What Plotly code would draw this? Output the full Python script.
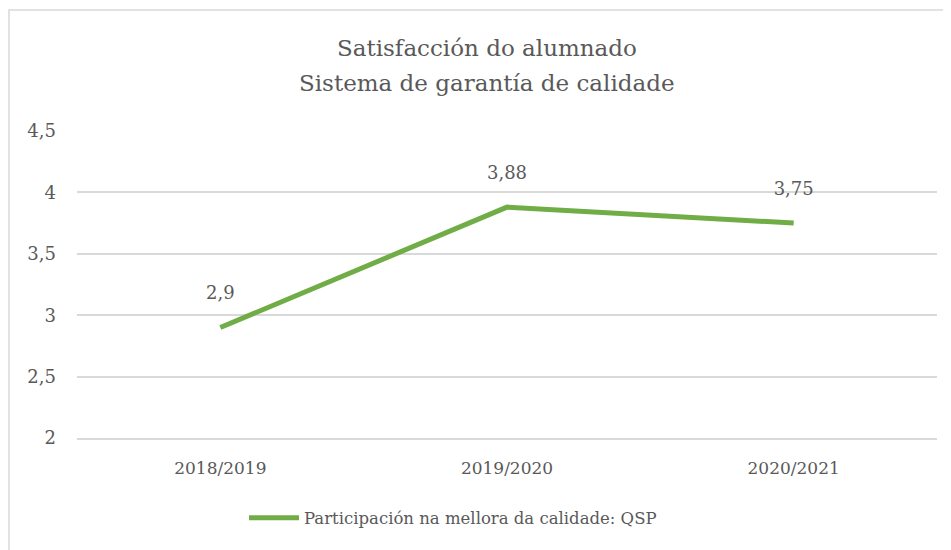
import plotly.graph_objects as go

categories = ["2018/2019", "2019/2020", "2020/2021"]
values = [2.9, 3.88, 3.75]
value_labels = ["2,9", "3,88", "3,75"]
series_name = "Participación na mellora da calidade: QSP"
title_lines = ["Satisfacción do alumnado", "Sistema de garantía de calidade"]
y_ticks = [2, 2.5, 3, 3.5, 4, 4.5]
y_tick_labels = ["2", "2,5", "3", "3,5", "4", "4,5"]

FONT = "DejaVu Serif"
GRAY = "#595959"
GREEN = "#70AD47"

OFF = 8  # page body margin
W, H = 951, 550
L, R, T, B = 77 - OFF, 22, 131 - OFF, 112 + OFF
pw, ph = W - L - R, H - T - B

def px_x(x):
    return (x - OFF - L) / pw

def px_y(y):
    return (H - B - (y - OFF)) / ph

fig = go.Figure()
fig.add_trace(go.Scatter(
    x=categories, y=values, mode="lines+markers+text", name=series_name,
    text=value_labels, textposition="top center",
    textfont=dict(family=FONT, size=18, color=GRAY),
    line=dict(color=GREEN, width=5),
    marker=dict(size=36, color="rgba(0,0,0,0)"),
    cliponaxis=False,
))

fig.update_layout(
    width=W, height=H,
    margin=dict(l=L, r=R, t=T, b=B),
    paper_bgcolor="white", plot_bgcolor="white",
    font=dict(family=FONT, color=GRAY, size=18),
    showlegend=True,
    legend=dict(orientation="h", x=px_x(453), xanchor="center", y=px_y(518), yanchor="middle",
                font=dict(family=FONT, size=16.5, color=GRAY), itemwidth=50),
    xaxis=dict(type="category", range=[-0.5, 2.5], showgrid=False, zeroline=False,
               showline=True, linecolor="#D9D9D9", linewidth=1.5,
               tickfont=dict(family=FONT, size=17, color=GRAY), ticks="",
               ticklabelstandoff=14),
    yaxis=dict(range=[2, 4.5], tickvals=y_ticks, ticktext=y_tick_labels,
               showgrid=True, gridcolor="#D9D9D9", gridwidth=1.5, zeroline=False,
               showline=False, ticks="",
               tickfont=dict(family=FONT, size=18, color=GRAY),
               ticklabelstandoff=20),
    shapes=[dict(type="rect", xref="paper", yref="paper",
                 x0=px_x(9), x1=px_x(970), y0=px_y(570), y1=px_y(10),
                 line=dict(color="#D9D9D9", width=1.5), layer="below")],
    annotations=[
        dict(text=title_lines[0], xref="paper", yref="paper", x=px_x(487), y=px_y(48),
             showarrow=False, xanchor="center", yanchor="middle",
             font=dict(family=FONT, size=23, color=GRAY)),
        dict(text=title_lines[1], xref="paper", yref="paper", x=px_x(487), y=px_y(83),
             showarrow=False, xanchor="center", yanchor="middle",
             font=dict(family=FONT, size=23, color=GRAY)),
    ],
)

fig.write_html("out.html")
